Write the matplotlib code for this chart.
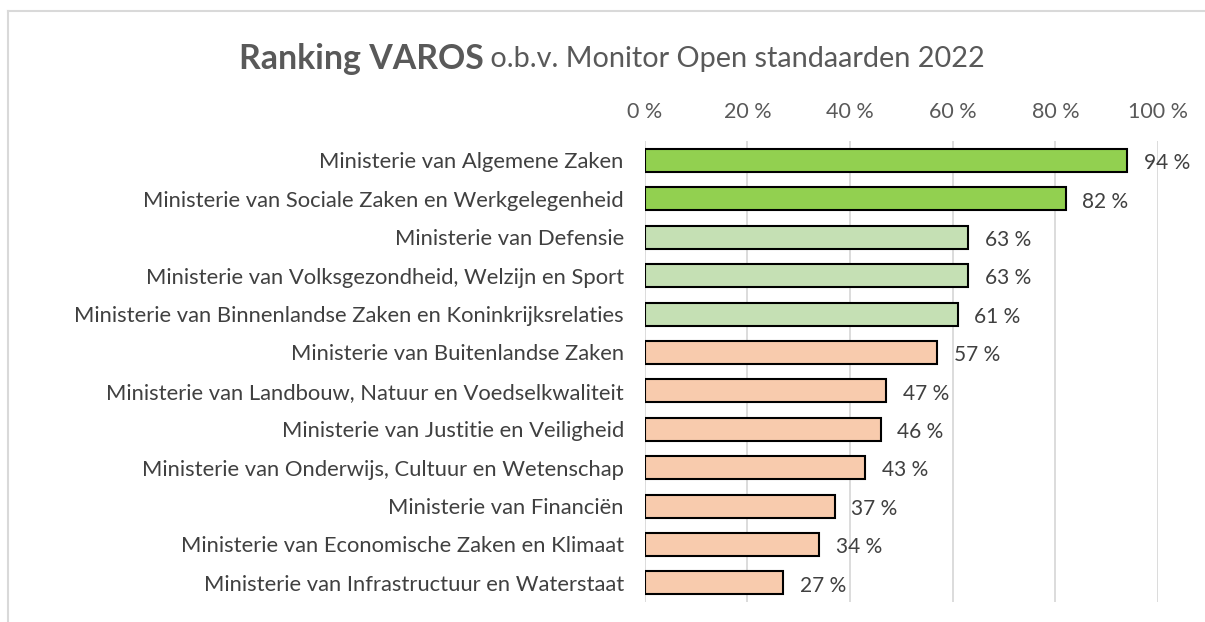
import matplotlib
matplotlib.use("Agg")
from matplotlib import pyplot as plt
from matplotlib.ticker import FuncFormatter
from matplotlib.lines import Line2D

ministeries = [
    "Ministerie van Algemene Zaken",
    "Ministerie van Sociale Zaken en Werkgelegenheid",
    "Ministerie van Defensie",
    "Ministerie van Volksgezondheid, Welzijn en Sport",
    "Ministerie van Binnenlandse Zaken en Koninkrijksrelaties",
    "Ministerie van Buitenlandse Zaken",
    "Ministerie van Landbouw, Natuur en Voedselkwaliteit",
    "Ministerie van Justitie en Veiligheid",
    "Ministerie van Onderwijs, Cultuur en Wetenschap",
    "Ministerie van Financiën",
    "Ministerie van Economische Zaken en Klimaat",
    "Ministerie van Infrastructuur en Waterstaat",
]
scores = [0.94, 0.82, 0.63, 0.63, 0.61, 0.57, 0.47, 0.46, 0.43, 0.37, 0.34, 0.27]
groep = ["top", "top", "mid", "mid", "mid", "low", "low", "low", "low", "low", "low", "low"]

kleuren = {"top": "#92D050", "mid": "#C5E0B4", "low": "#F8CBAD"}
tekst = "#404040"
font = "Lato"

fig = plt.figure(figsize=(12.05, 6.22), dpi=100)
ax = fig.add_axes([0.535, 0.032, 0.426, 0.741])

y = list(range(len(ministeries)))
ax.barh(y, scores, height=0.6, color=[kleuren[g] for g in groep],
        edgecolor="black", linewidth=1.5, zorder=3)

for yi, s in zip(y, scores):
    ax.annotate(f"{round(s * 100)} %", (s, yi), xytext=(12, -2), textcoords="offset points",
                va="center", ha="left", fontsize=15, color=tekst, family=font)

ax.set_xlim(0, 1)
ax.set_ylim(len(ministeries) - 0.5, -0.5)
ax.set_xticks([0, 0.2, 0.4, 0.6, 0.8, 1.0])
ax.xaxis.set_major_formatter(FuncFormatter(lambda v, p: f"{round(v * 100)} %"))
ax.xaxis.tick_top()
ax.tick_params(axis="x", length=0, pad=14, labelsize=15.5, labelcolor="#595959")
ax.set_yticks(y)
ax.set_yticklabels(ministeries)
ax.tick_params(axis="y", length=0, pad=15, labelsize=15.8, labelcolor=tekst)
for lab in ax.get_xticklabels() + ax.get_yticklabels():
    lab.set_family(font)
ax.grid(axis="x", color="#D9D9D9", linewidth=1.3, zorder=0)
for sp in ax.spines.values():
    sp.set_visible(False)

# titel in twee delen: vet en normaal
t1 = fig.text(0.2, 0.905, "Ranking VAROS", fontsize=24.4, fontweight="bold",
              color="#595959", family=font, va="center")
t2 = fig.text(0.2, 0.905, " o.b.v. Monitor Open standaarden 2022", fontsize=20.8,
              color="#595959", family=font, va="center")
fig.canvas.draw()
r = fig.canvas.get_renderer()
w1 = t1.get_window_extent(r).width / fig.bbox.width
w2 = t2.get_window_extent(r).width / fig.bbox.width
x0 = 612 / 1205 - (w1 + w2) / 2
t1.set_x(x0)
t2.set_x(x0 + w1)

# rand van het diagramvlak
fig.add_artist(Line2D([8 / 1205, 1], [1 - 11 / 622, 1 - 11 / 622], color="#D9D9D9", linewidth=1.5))
fig.add_artist(Line2D([8 / 1205, 8 / 1205], [0, 1 - 11 / 622], color="#D9D9D9", linewidth=1.5))

fig.savefig("out.png", dpi=100)
